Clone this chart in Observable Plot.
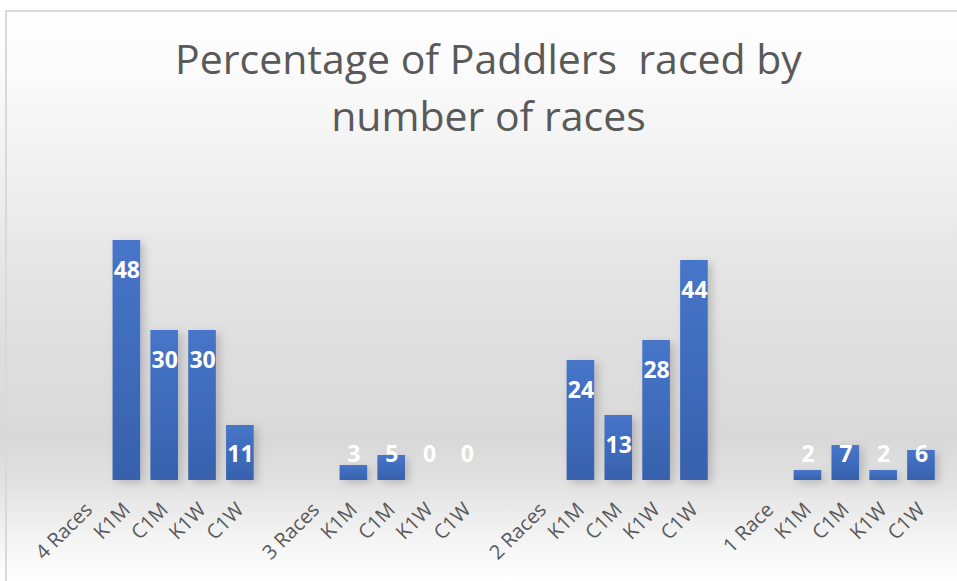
<!DOCTYPE html>
<html>
<head>
<meta charset="utf-8">
<script src="https://cdn.jsdelivr.net/npm/d3@7"></script>
<script src="https://cdn.jsdelivr.net/npm/@observablehq/plot@0.6"></script>
<style>
  html, body { margin: 0; padding: 0; background: #fff; }
  #chart {
    position: relative; width: 957px; height: 581px; overflow: hidden;
    background: linear-gradient(to bottom, #ffffff 0%, #fbfbfb 12%, #f3f3f3 25%, #e9e9e9 40%, #dedede 60%, #d9d9d9 76%, #e3e3e3 84%, #f3f3f3 92%, #ffffff 100%);
    font-family: "Open Sans", sans-serif;
  }
  #frame {
    position: absolute; left: 5px; top: 10px; right: -4px; bottom: -4px;
    border-left: 2px solid #d9d9d9; border-top: 2px solid #d9d9d9;
    pointer-events: none;
  }
  #title {
    position: absolute; left: 10px; top: 30px; width: 957px;
    text-align: center; font-size: 41px; line-height: 57px; color: #595959;
    white-space: pre;
  }
  #chart svg { position: absolute; left: 0; top: 0; }
</style>
</head>
<body>
<div id="chart">
  <div id="frame"></div>
  <div id="title">Percentage of Paddlers  raced by
number of races</div>
</div>
<script>
const groups = ["4 Races", "3 Races", "2 Races", "1 Race"];
const classes = ["K1M", "C1M", "K1W", "C1W"];
const races4 = [48, 30, 30, 11];
const races3 = [3, 5, 0, 0];
const races2 = [24, 13, 28, 44];
const races1 = [2, 7, 2, 6];
const groupValues = [races4, races3, races2, races1];

// Build category slots: group label slot, four class slots, blank gap slot
const slots = [];
groups.forEach((g, gi) => {
  slots.push({key: `g${gi}`, label: g});
  classes.forEach((c, ci) => {
    slots.push({key: `g${gi}-${c}`, label: c, value: groupValues[gi][ci]});
  });
  if (gi < groups.length - 1) slots.push({key: `gap${gi}`, label: ""});
});
const bars = slots.filter(d => d.value !== undefined);
const labelOf = new Map(slots.map(d => [d.key, d.label]));

const chart = Plot.plot({
  width: 957,
  height: 581,
  marginLeft: 64.5,
  marginRight: 12,
  marginTop: 80,
  marginBottom: 101,
  style: {background: "transparent", fontFamily: "'Open Sans', sans-serif", overflow: "visible"},
  x: {domain: slots.map(d => d.key), padding: 0.27, round: false, axis: null, label: null},
  y: {domain: [0, 80], axis: null},
  marks: [
    Plot.barY(bars, {x: "key", y: "value", fill: "url(#barGrad)", filter: d => d.value > 0,
      render: (i, s, v, d, c, next) => { const g = next(i, s, v, d, c); g.setAttribute("filter", "url(#barShadow)"); return g; }}),
    Plot.text(bars, {
      x: "key",
      y: d => Math.max(d.value - 6, 5.2),
      text: d => String(d.value),
      fill: "white",
      fontWeight: "bold",
      fontSize: 23
    }),
    Plot.axisX({
      tickRotate: -45,
      tickSize: 0,
      tickPadding: 26,
      fontSize: 20,
      fill: "#595959",
      label: null,
      tickFormat: k => labelOf.get(k)
    })
  ]
});

const defs = d3.select(chart).insert("defs", ":first-child");
const grad = defs.append("linearGradient")
  .attr("id", "barGrad").attr("x1", 0).attr("y1", 0).attr("x2", 0).attr("y2", 1);
grad.append("stop").attr("offset", "0%").attr("stop-color", "#4775c9");
grad.append("stop").attr("offset", "100%").attr("stop-color", "#3761ad");
const shadow = defs.append("filter").attr("id", "barShadow")
  .attr("x", "-20%").attr("y", "-10%").attr("width", "160%").attr("height", "130%");
shadow.append("feDropShadow").attr("dx", 4).attr("dy", 3).attr("stdDeviation", 4)
  .attr("flood-color", "#000").attr("flood-opacity", 0.18);

document.getElementById("chart").appendChild(chart);
</script>
</body>
</html>
